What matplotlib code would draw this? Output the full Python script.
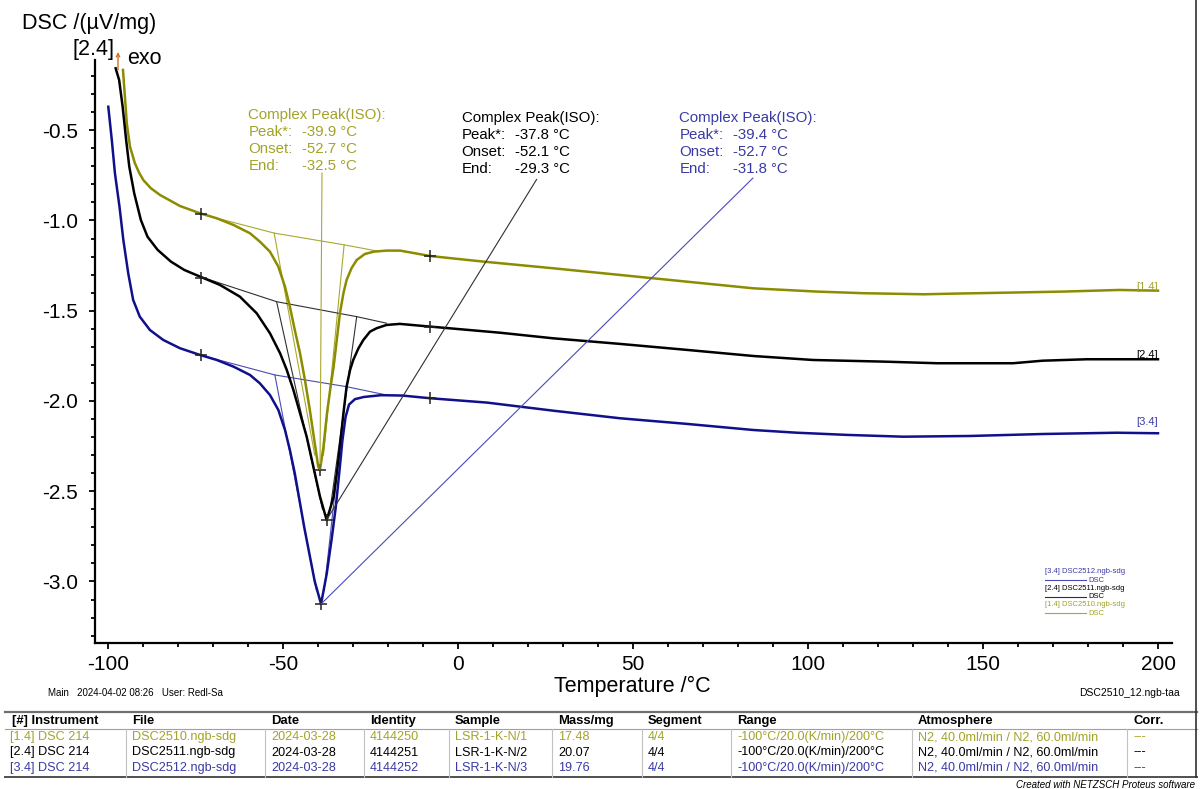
import matplotlib
matplotlib.use("Agg")
import matplotlib.pyplot as plt
from matplotlib.ticker import MultipleLocator, FuncFormatter
from matplotlib.lines import Line2D

plt.rcParams['font.family'] = ['Liberation Sans', 'DejaVu Sans']

# ---------------- data ----------------
T1 = [-95.8, -94.7, -93.8, -92.4, -91.2, -90.0, -87.8, -85.2, -79.5, -73.8, -69.0, -64.2, -59.5,
      -56.7, -53.8, -51.4, -49.5, -48.1, -46.7, -45.2, -43.8, -42.4, -41.0, -40.0, -39.5, -38.5,
      -37.5, -36.6, -35.6, -34.7, -33.8, -32.8, -31.9, -30.5, -29.0, -26.7, -24.2, -20.5, -16.6,
      -8.0, 7.2, 27.2, 46.3, 65.3, 84.4, 102.5, 115.8, 133.0, 142.5, 156.8, 173.0, 189.0, 200.0]
D1 = [-0.166, -0.465, -0.591, -0.683, -0.735, -0.776, -0.822, -0.859, -0.920, -0.960, -0.988, -1.025,
      -1.071, -1.117, -1.173, -1.256, -1.367, -1.478, -1.607, -1.736, -1.884, -2.050, -2.234, -2.364,
      -2.382, -2.253, -2.068, -1.939, -1.810, -1.662, -1.514, -1.403, -1.330, -1.265, -1.219, -1.186,
      -1.173, -1.167, -1.167, -1.197, -1.228, -1.265, -1.302, -1.339, -1.376, -1.394, -1.403, -1.409,
      -1.405, -1.400, -1.394, -1.385, -1.389]

T2 = [-97.9, -96.9, -95.9, -94.9, -94.0, -92.6, -90.7, -88.8, -85.9, -82.1, -78.3, -73.8, -68.1,
      -62.4, -57.6, -53.8, -50.9, -49.0, -47.1, -45.2, -43.3, -41.4, -39.5, -37.6, -36.7, -35.6,
      -34.7, -33.8, -32.8, -31.9, -30.9, -30.0, -28.5, -27.1, -25.2, -23.3, -20.5, -16.7, -8.0,
      12.0, 27.2, 46.3, 65.3, 84.4, 101.4, 121.4, 136.8, 158.6, 167.0, 179.6, 200.0]
D2 = [-0.157, -0.222, -0.370, -0.554, -0.702, -0.849, -0.997, -1.090, -1.163, -1.228, -1.274, -1.311,
      -1.357, -1.422, -1.514, -1.625, -1.736, -1.828, -1.939, -2.068, -2.198, -2.364, -2.530, -2.659,
      -2.604, -2.530, -2.401, -2.253, -2.068, -1.921, -1.828, -1.773, -1.708, -1.662, -1.616, -1.597,
      -1.579, -1.573, -1.588, -1.622, -1.653, -1.684, -1.717, -1.751, -1.773, -1.782, -1.791, -1.791,
      -1.777, -1.769, -1.769]

T3 = [-100.0, -99.0, -98.1, -96.8, -95.7, -94.3, -92.9, -91.0, -88.1, -84.3, -79.5, -73.8, -69.0,
      -64.2, -59.5, -56.7, -53.8, -51.4, -49.5, -48.1, -46.7, -45.2, -44.0, -42.5, -41.0, -39.2,
      -37.6, -36.2, -35.0, -34.0, -33.1, -32.2, -31.2, -29.5, -27.0, -22.0, -16.0, -8.0, 8.2, 27.2,
      46.3, 65.3, 84.4, 96.8, 111.0, 127.2, 146.3, 167.2, 188.2, 200.0]
D3 = [-0.370, -0.554, -0.739, -0.924, -1.108, -1.293, -1.440, -1.533, -1.607, -1.662, -1.708, -1.745,
      -1.773, -1.810, -1.856, -1.902, -1.967, -2.050, -2.161, -2.272, -2.401, -2.567, -2.700, -2.850,
      -3.000, -3.125, -2.960, -2.770, -2.590, -2.400, -2.220, -2.090, -2.020, -1.990, -1.978, -1.968,
      -1.970, -1.985, -2.009, -2.054, -2.096, -2.127, -2.161, -2.176, -2.188, -2.198, -2.194, -2.183,
      -2.176, -2.179]

# evaluation markers (left / right limit temperatures) and peaks
mark_T = [-73.5, -8.0]
mark_D1 = [-0.964, -1.197]
mark_D2 = [-1.32, -1.588]
mark_D3 = [-1.745, -1.985]
peak_T = [-39.5, -37.6, -39.2]
peak_D = [-2.382, -2.659, -3.125]

# virtual baselines and tangents
base1_T = [-73.5, -52.6, -32.6, -23.0]
base1_D = [-0.964, -1.07, -1.135, -1.17]
base2_T = [-73.8, -51.9, -29.0, -20.5]
base2_D = [-1.311, -1.45, -1.533, -1.569]
base3_T = [-73.8, -52.4, -31.9, -20.5]
base3_D = [-1.745, -1.856, -1.921, -1.967]
onset_T = [[-52.6, -41.0], [-51.9, -38.8], [-52.4, -40.5]]
onset_D = [[-1.07, -2.30], [-1.45, -2.60], [-1.856, -3.05]]
end_T = [[-32.6, -38.5], [-29.0, -36.6], [-31.9, -38.3]]
end_D = [[-1.135, -2.30], [-1.533, -2.60], [-1.921, -3.05]]

labels = ["[1.4]", "[2.4]", "[3.4]"]
peak_txt = ["-39.9", "-37.8", "-39.4"]
onset_txt = ["-52.7", "-52.1", "-52.7"]
end_txt = ["-32.5", "-29.3", "-31.8"]

table_header = ["[#] Instrument", "File", "Date", "Identity", "Sample", "Mass/mg", "Segment",
                "Range", "Atmosphere", "Corr."]
table_rows = [
    ["[1.4] DSC 214", "DSC2510.ngb-sdg", "2024-03-28", "4144250", "LSR-1-K-N/1", "17.48", "4/4",
     "-100°C/20.0(K/min)/200°C", "N2, 40.0ml/min / N2, 60.0ml/min", "---"],
    ["[2.4] DSC 214", "DSC2511.ngb-sdg", "2024-03-28", "4144251", "LSR-1-K-N/2", "20.07", "4/4",
     "-100°C/20.0(K/min)/200°C", "N2, 40.0ml/min / N2, 60.0ml/min", "---"],
    ["[3.4] DSC 214", "DSC2512.ngb-sdg", "2024-03-28", "4144252", "LSR-1-K-N/3", "19.76", "4/4",
     "-100°C/20.0(K/min)/200°C", "N2, 40.0ml/min / N2, 60.0ml/min", "---"],
]
files = ["DSC2510.ngb-sdg", "DSC2511.ngb-sdg", "DSC2512.ngb-sdg"]

# ---------------- style ----------------
OLIVE = "#8c8c00"
OLIVE_T = "#a3a32a"
BLACK = "#000000"
BLUE = "#10108c"
BLUE_T = "#3a3aa6"
thin_colors = ["#a8a830", "#303030", "#4a4ab8"]
text_colors = [OLIVE_T, "#000000", BLUE_T]

W, H = 1202, 789
fig = plt.figure(figsize=(W / 100, H / 100), dpi=100)


def fx(x):
    return x / W


def fy(y):
    return 1 - y / H


ax = fig.add_axes([fx(95), fy(643), fx(1172) - fx(95), fy(60) - fy(643)])
ax.set_xlim(-103.8, 204.0)
ax.set_ylim(-3.341, -0.111)
for s in ["top", "right"]:
    ax.spines[s].set_visible(False)
for s in ["left", "bottom"]:
    ax.spines[s].set_linewidth(1.6)
ax.xaxis.set_major_locator(MultipleLocator(50))
ax.xaxis.set_minor_locator(MultipleLocator(10))
ax.yaxis.set_major_locator(MultipleLocator(0.5))
ax.yaxis.set_minor_locator(MultipleLocator(0.1))
ax.tick_params(axis="both", which="major", direction="out", length=4, width=1.3, labelsize=15)
ax.tick_params(axis="both", which="minor", direction="out", length=3, width=1.3)
ax.tick_params(axis="y", pad=8)
ax.tick_params(axis="x", pad=5)
ax.yaxis.set_major_formatter(FuncFormatter(lambda v, p: f"{v:.1f}"))
ax.xaxis.set_major_formatter(FuncFormatter(lambda v, p: f"{v:.0f}"))

# baselines and tangents
bases = [(base1_T, base1_D), (base2_T, base2_D), (base3_T, base3_D)]
for i in range(3):
    ax.plot(bases[i][0], bases[i][1], color=thin_colors[i], lw=0.8)
    ax.plot(onset_T[i], onset_D[i], color=thin_colors[i], lw=0.8)
    ax.plot(end_T[i], end_D[i], color=thin_colors[i], lw=0.8)

# curves
for Ts, Ds, c in [(T1, D1, OLIVE), (T2, D2, BLACK), (T3, D3, BLUE)]:
    ax.plot(Ts, Ds, color=c, lw=1.8, solid_joinstyle="round")

# markers
for md in [mark_D1, mark_D2, mark_D3]:
    ax.plot(mark_T, md, ls="none", marker="+", ms=9, mew=1.1, color="#202020")
ax.plot(peak_T, peak_D, ls="none", marker="+", ms=9, mew=1.1, color="#202020")

# leader lines from peaks to the text blocks
leader_px = [(322.0, 173.0), (536.7, 179.3), (753.0, 178.0)]
for i in range(3):
    ax.annotate("", xy=(peak_T[i], peak_D[i]), xycoords="data",
                xytext=(leader_px[i][0], H - leader_px[i][1]), textcoords="figure pixels",
                arrowprops=dict(arrowstyle="-", color=thin_colors[i], lw=0.8,
                                shrinkA=0, shrinkB=0))

# annotation text blocks
blocks = [(248.3, 115.0), (461.7, 118.3), (679.3, 118.3)]
for i, (bx, by) in enumerate(blocks):
    c = text_colors[i]
    fs = 10.8
    dy = 17.0
    fig.text(fx(bx), fy(by), "Complex Peak(ISO):", color=c, fontsize=fs, va="center", ha="left")
    rows = [("Peak*:", peak_txt[i]), ("Onset:", onset_txt[i]), ("End:", end_txt[i])]
    for k, (lab, val) in enumerate(rows):
        yy = by + dy * (k + 1)
        fig.text(fx(bx), fy(yy), lab, color=c, fontsize=fs, va="center", ha="left")
        fig.text(fx(bx + 53.4), fy(yy), val + " °C", color=c, fontsize=fs, va="center", ha="left")

# curve end labels
end_lab_y = [286.7, 355.0, 421.7]
for i in range(3):
    fig.text(fx(1158), fy(end_lab_y[i]), labels[i], color=text_colors[i], fontsize=8,
             ha="right", va="center")

# mini legend
leg_y = [571.7, 588.3, 605.0]
leg_order = [2, 1, 0]
for k, i in enumerate(leg_order):
    y0 = leg_y[k]
    fig.text(fx(1045), fy(y0), f"{labels[i]} {files[i]}", color=text_colors[i], fontsize=5.5,
             ha="left", va="center")
    fig.add_artist(Line2D([fx(1045), fx(1086)], [fy(y0 + 8.3), fy(y0 + 8.3)],
                          color=thin_colors[i], lw=0.8, transform=fig.transFigure))
    fig.text(fx(1088), fy(y0 + 8.3), "DSC", color=text_colors[i], fontsize=5.5,
             ha="left", va="center")

# axis titles
fig.text(fx(21.7), fy(23.0), "DSC /(µV/mg)", fontsize=15.5, ha="left", va="center")
fig.text(fx(72.0), fy(50.0), "[2.4]", fontsize=15.5, ha="left", va="center")
ax.annotate("", xy=(118, H - 52), xycoords="figure pixels",
            xytext=(118, H - 70), textcoords="figure pixels",
            arrowprops=dict(arrowstyle="->", color="#d07020", lw=1.0, mutation_scale=6,
                            shrinkA=0, shrinkB=0))
fig.text(fx(127.0), fy(58.0), "exo", fontsize=15.5, ha="left", va="center")
fig.text(fx(632.0), fy(686.0), "Temperature /°C", fontsize=15.5, ha="center", va="center")

# footer info
fig.text(fx(48), fy(693), "Main   2024-04-02 08:26   User: Redl-Sa", fontsize=7, ha="left", va="center")
fig.text(fx(1180), fy(693), "DSC2510_12.ngb-taa", fontsize=7.5, ha="right", va="center")

# table
col_x = [10, 132, 271, 370, 455, 558, 648, 737, 918, 1133]
sep_x = [126, 265, 364, 449, 552, 642, 731, 912, 1127]
fig.add_artist(Line2D([fx(5), fx(1197)], [fy(712), fy(712)], color="#707070", lw=1.6,
                      transform=fig.transFigure))
fig.add_artist(Line2D([fx(5), fx(1197)], [fy(729), fy(729)], color="#a0a0a0", lw=0.8,
                      transform=fig.transFigure))
fig.add_artist(Line2D([fx(5), fx(1197)], [fy(777), fy(777)], color="#505050", lw=1.4,
                      transform=fig.transFigure))
for sx in sep_x:
    fig.add_artist(Line2D([fx(sx), fx(sx)], [fy(729), fy(777)], color="#c0c0c0", lw=0.8,
                          transform=fig.transFigure))
fig.add_artist(Line2D([fx(1196), fx(1196)], [fy(0), fy(777)], color="#303030", lw=1.2,
                      transform=fig.transFigure))
for j, h in enumerate(table_header):
    x = 12 if j == 0 else col_x[j]
    fig.text(fx(x), fy(721), h, fontsize=9.4, fontweight="bold", ha="left", va="center")
row_y = [737, 752.5, 768]
for r, row in enumerate(table_rows):
    for j, cell in enumerate(row):
        fig.text(fx(col_x[j]), fy(row_y[r]), cell, fontsize=9.1, color=text_colors[r],
                 ha="left", va="center")
fig.text(fx(1195), fy(785), "Created with NETZSCH Proteus software", fontsize=7, style="italic",
         ha="right", va="center")

fig.savefig("out.png", dpi=100)
